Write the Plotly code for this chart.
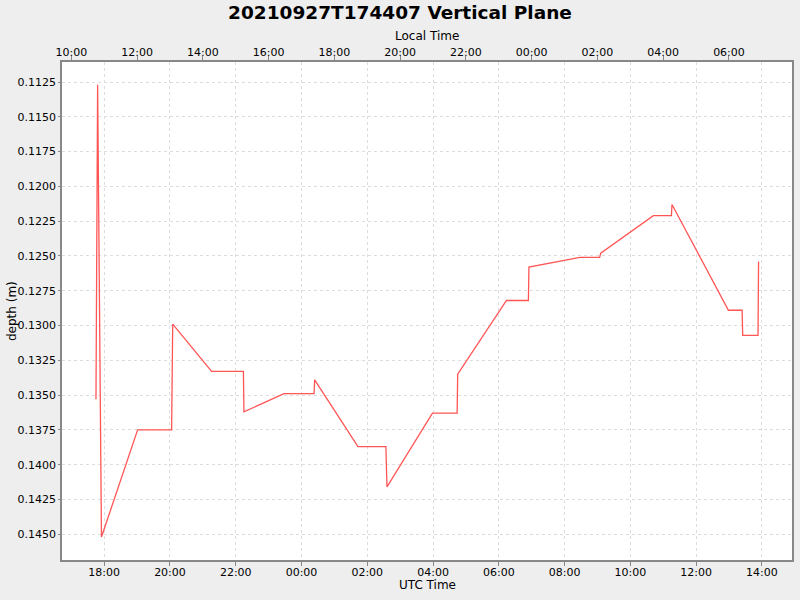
import pandas as pd
import plotly.graph_objects as go

TITLE = "20210927T174407 Vertical Plane"
LOCAL_OFFSET_HOURS = -7

# sample times (UTC) and depth readings
utc_times = [
    "2021-09-27 17:45", "2021-09-27 17:48", "2021-09-27 17:55", "2021-09-27 19:01",
    "2021-09-27 20:03", "2021-09-27 20:05", "2021-09-27 21:16", "2021-09-27 22:14",
    "2021-09-27 22:15", "2021-09-27 23:28", "2021-09-28 00:23", "2021-09-28 00:24",
    "2021-09-28 01:43", "2021-09-28 02:34", "2021-09-28 02:36", "2021-09-28 03:59",
    "2021-09-28 04:44", "2021-09-28 04:45", "2021-09-28 06:14", "2021-09-28 06:54",
    "2021-09-28 06:55", "2021-09-28 08:28", "2021-09-28 09:04", "2021-09-28 09:06",
    "2021-09-28 10:42", "2021-09-28 11:15", "2021-09-28 11:16", "2021-09-28 12:59",
    "2021-09-28 13:24", "2021-09-28 13:25", "2021-09-28 13:53", "2021-09-28 13:54",
]
depths = [
    0.1353, 0.1127, 0.1452, 0.1375,
    0.1375, 0.1299, 0.1333, 0.1333,
    0.1362, 0.1349, 0.1349, 0.1339,
    0.1387, 0.1387, 0.1416, 0.1363,
    0.1363, 0.1335, 0.1282, 0.1282,
    0.1258, 0.1251, 0.1251, 0.1248,
    0.1221, 0.1221, 0.1213, 0.1289,
    0.1289, 0.1307, 0.1307, 0.1254,
]
y_ticks = [0.1125, 0.1150, 0.1175, 0.1200, 0.1225, 0.1250, 0.1275, 0.1300,
           0.1325, 0.1350, 0.1375, 0.1400, 0.1425, 0.1450]

utc = pd.to_datetime(utc_times)
shift = pd.Timedelta(hours=LOCAL_OFFSET_HOURS)
local = utc + shift

utc_range = [pd.Timestamp("2021-09-27 16:43"), pd.Timestamp("2021-09-28 14:55")]
local_range = [t + shift for t in utc_range]

FONT = "DejaVu Sans"
GRID = "#dddddd"
AXIS = "#888888"

fig = go.Figure()
fig.add_trace(go.Scatter(
    x=utc, y=depths, mode="lines",
    line={"color": "#FF5555", "width": 1.3},
    hovertemplate="%{x|%H:%M}: %{y:.4f}<extra></extra>",
))
# invisible copy so the local-time axis gets drawn
fig.add_trace(go.Scatter(
    x=local, y=depths, mode="lines", xaxis="x2",
    line={"color": "rgba(0,0,0,0)", "width": 0},
    hoverinfo="skip", showlegend=False,
))

common_x = {
    "tickformat": "%H:%M", "dtick": 7200000, "tick0": "2021-09-27 00:00",
    "showline": True, "linecolor": AXIS, "linewidth": 1.5,
    "ticks": "outside", "ticklen": 4, "tickcolor": AXIS,
    "zeroline": False, "automargin": False,
}

fig.update_layout(
    width=800, height=600,
    title={"text": f"<b>{TITLE}</b>", "x": 0.5, "xanchor": "center",
           "y": 0.99, "yanchor": "top",
           "font": {"family": FONT, "size": 18.5, "color": "#000000"}},
    font={"family": FONT, "size": 11, "color": "#000000"},
    paper_bgcolor="#eeeeee",
    plot_bgcolor="#ffffff",
    showlegend=False,
    margin={"l": 62, "r": 8, "t": 62, "b": 40},
    xaxis={**common_x, "range": utc_range, "ticklabelstandoff": -3,
           "showgrid": True, "gridcolor": GRID, "griddash": "3px,3px"},
    xaxis2={**common_x, "range": local_range, "overlaying": "x", "side": "top",
            "ticklabelstandoff": -4, "showgrid": False},
    yaxis={
        "range": [0.14685, 0.11106], "tickvals": y_ticks, "tickformat": ".4f",
        "showgrid": True, "gridcolor": GRID, "griddash": "3px,3px",
        "showline": True, "linecolor": AXIS, "linewidth": 1.5, "mirror": True,
        "ticks": "outside", "ticklen": 2, "tickcolor": AXIS,
        "zeroline": False, "automargin": False,
    },
    annotations=[
        {"text": "UTC Time", "xref": "paper", "yref": "paper", "x": 0.5, "y": 0,
         "yshift": -25, "yanchor": "middle", "showarrow": False, "font": {"size": 12}},
        {"text": "Local Time", "xref": "paper", "yref": "paper", "x": 0.5, "y": 1,
         "yshift": 26, "yanchor": "middle", "showarrow": False, "font": {"size": 12}},
        {"text": "depth (m)", "xref": "paper", "yref": "paper", "x": 0, "y": 0.5,
         "xshift": -50, "xanchor": "center", "textangle": -90, "showarrow": False,
         "font": {"size": 12}},
    ],
)

# drop the page's default body margin so the figure sits at the window corner
fig.write_html("out.html", config={"displayModeBar": False},
               post_script="document.body.style.margin='0';")
